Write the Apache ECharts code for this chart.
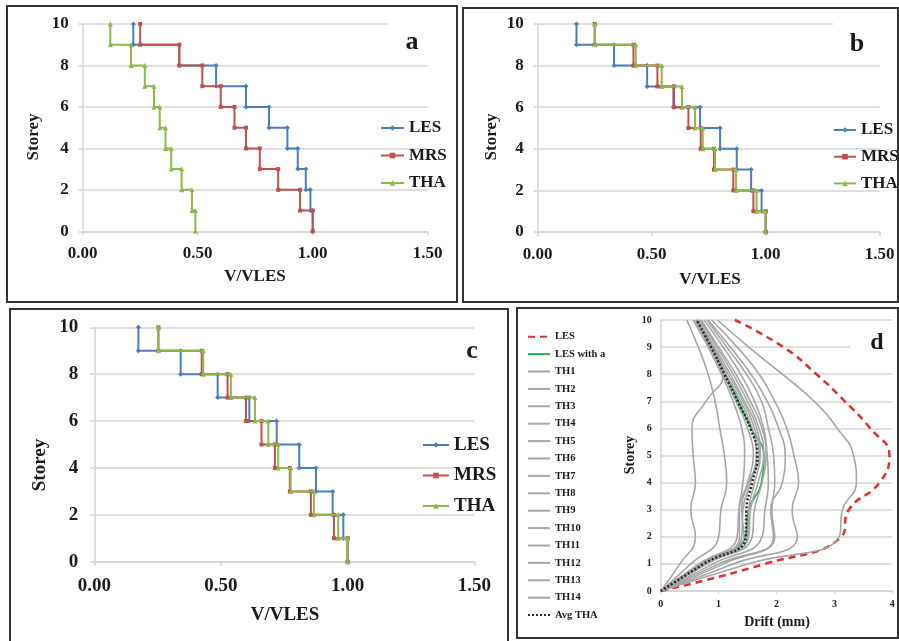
<!DOCTYPE html>
<html><head><meta charset="utf-8">
<script src="https://cdn.jsdelivr.net/npm/echarts@6/dist/echarts.min.js"></script>
<style>html,body{margin:0;padding:0;background:#fff}#c{width:899px;height:641px}</style>
</head><body><div id="c"></div>
<script>
// ---- data: panels a, b, c (storey shear ratio, storey 10 down to 1) ----
const storeys = [10, 9, 8, 7, 6, 5, 4, 3, 2, 1];
const seriesNames = ['LES', 'MRS', 'THA'];
const LES_a = [0.22, 0.42, 0.58, 0.71, 0.81, 0.89, 0.935, 0.97, 0.99, 1.0];
const MRS_a = [0.25, 0.42, 0.52, 0.60, 0.66, 0.71, 0.77, 0.85, 0.945, 1.0];
const THA_a = [0.12, 0.21, 0.27, 0.31, 0.335, 0.36, 0.385, 0.43, 0.475, 0.49];
const LES_b = [0.17, 0.335, 0.48, 0.595, 0.712, 0.80, 0.873, 0.936, 0.982, 1.0];
const MRS_b = [0.25, 0.42, 0.525, 0.598, 0.661, 0.715, 0.773, 0.858, 0.946, 1.0];
const THA_b = [0.25, 0.43, 0.544, 0.633, 0.69, 0.724, 0.778, 0.87, 0.96, 1.0];
const LES_c = [0.174, 0.341, 0.487, 0.612, 0.72, 0.809, 0.875, 0.941, 0.983, 1.0];
const MRS_c = [0.253, 0.424, 0.526, 0.599, 0.66, 0.713, 0.772, 0.855, 0.946, 1.0];
const THA_c = [0.253, 0.43, 0.539, 0.634, 0.687, 0.726, 0.775, 0.867, 0.963, 1.0];
const ratioTicks = ['0.00', '0.50', '1.00', '1.50'];
const storeyTicksABC = ['0', '2', '4', '6', '8', '10'];

// ---- data: panel d (drift in mm at storey 0..10) ----
const dStoreys = [0, 1, 2, 3, 4, 5, 6, 7, 8, 9, 10];
const LES_d  = [0, 1.80, 3.12, 3.25, 3.78, 3.95, 3.62, 3.18, 2.69, 2.12, 1.28];
const LESa_d = [0, 0.74, 1.46, 1.52, 1.74, 1.78, 1.56, 1.34, 1.12, 0.88, 0.62];
const TH1  = [0, 0.33, 0.60, 0.52, 0.60, 0.56, 0.54, 0.78, 1.08, 0.90, 0.60];
const TH2  = [0, 0.52, 1.00, 1.04, 1.14, 1.10, 1.02, 0.94, 0.82, 0.65, 0.45];
const TH3  = [0, 0.68, 1.36, 1.36, 1.50, 1.60, 1.50, 1.30, 1.08, 0.85, 0.60];
const TH4  = [0, 0.70, 1.40, 1.42, 1.55, 1.65, 1.58, 1.38, 1.12, 0.86, 0.60];
const TH5  = [0, 0.73, 1.44, 1.40, 1.52, 1.70, 1.62, 1.42, 1.16, 0.90, 0.62];
const TH6  = [0, 0.76, 1.50, 1.52, 1.62, 1.72, 1.66, 1.45, 1.20, 0.93, 0.65];
const TH7  = [0, 0.78, 1.52, 1.55, 1.68, 1.78, 1.70, 1.50, 1.25, 0.97, 0.68];
const TH8  = [0, 0.66, 1.32, 1.35, 1.42, 1.45, 1.40, 1.25, 1.05, 0.82, 0.56];
const TH9  = [0, 0.80, 1.58, 1.62, 1.75, 1.82, 1.75, 1.55, 1.30, 1.00, 0.70];
const TH10 = [0, 0.90, 1.75, 1.80, 1.86, 1.84, 1.78, 1.62, 1.38, 1.08, 0.75];
const TH11 = [0, 1.00, 1.97, 1.92, 1.97, 1.95, 1.86, 1.74, 1.48, 1.14, 0.80];
const TH12 = [0, 1.08, 1.95, 1.90, 2.10, 2.15, 2.04, 1.84, 1.56, 1.20, 0.82];
const TH13 = [0, 1.25, 2.36, 2.27, 2.38, 2.30, 2.18, 1.97, 1.70, 1.32, 0.88];
const TH14 = [0, 1.50, 3.08, 3.14, 3.38, 3.33, 3.05, 2.65, 2.10, 1.52, 0.98];
const AVG_d = [0, 0.74, 1.47, 1.48, 1.58, 1.67, 1.55, 1.33, 1.10, 0.87, 0.62];
const thNames = ['TH1','TH2','TH3','TH4','TH5','TH6','TH7','TH8','TH9','TH10','TH11','TH12','TH13','TH14'];
const thData = [TH1,TH2,TH3,TH4,TH5,TH6,TH7,TH8,TH9,TH10,TH11,TH12,TH13,TH14];
const driftTicks = ['0', '1', '2', '3', '4'];

// ---- build ----
const FF = "'Liberation Serif','Times New Roman',serif";
const TXT = '#1a1a1a';
const GRID = '#d4d4d4';
const colors = {LES: '#4A7EBB', MRS: '#C0504D', THA: '#8DB84A'};
const symbols = {LES: ['diamond', 5], MRS: ['rect', 4], THA: ['triangle', 5]};

function steps(vals) {
  const pts = [];
  vals.forEach((v, i) => { const s = storeys[i]; pts.push([v, s], [v, s - 1]); });
  return pts;
}
function pairs(xs) { return xs.map((x, i) => [x, dStoreys[i]]); }

const panelDefs = [
  {id: 'a', grid: {left: 82.7, top: 24, width: 345, height: 207.3}, fs: 17, ymargin: 14, xmargin: 14, data: [LES_a, MRS_a, THA_a]},
  {id: 'b', grid: {left: 537.7, top: 24, width: 342, height: 208}, fs: 17, ymargin: 14, xmargin: 14, data: [LES_b, MRS_b, THA_b]},
  {id: 'c', grid: {left: 94.3, top: 327.3, width: 380, height: 234.4}, fs: 19, ymargin: 16, xmargin: 15, data: [LES_c, MRS_c, THA_c]}
];

const grids = [], xAxes = [], yAxes = [], series = [];
panelDefs.forEach((p, idx) => {
  grids.push(Object.assign({}, p.grid));
  xAxes.push({
    gridIndex: idx, type: 'value', min: 0, max: 1.5, interval: 0.5,
    axisLabel: {formatter: v => ratioTicks[Math.round(v / 0.5)], fontSize: p.fs, fontWeight: 'bold', fontFamily: FF, color: TXT, margin: p.xmargin},
    axisLine: {show: true, onZero: false, lineStyle: {color: GRID, width: 1.5}},
    axisTick: {show: true, length: 4, lineStyle: {color: GRID, width: 1.5}},
    splitLine: {show: false}
  });
  yAxes.push({
    gridIndex: idx, type: 'value', min: 0, max: 10, interval: 2,
    axisLabel: {formatter: v => storeyTicksABC[Math.round(v / 2)], fontSize: p.fs, fontWeight: 'bold', fontFamily: FF, color: TXT, margin: p.ymargin},
    axisLine: {show: true, onZero: false, lineStyle: {color: GRID, width: 1.5}},
    axisTick: {show: true, length: 4, lineStyle: {color: GRID, width: 1.5}},
    splitLine: {show: true, lineStyle: {color: GRID, width: 1.5}}
  });
  seriesNames.forEach((n, k) => {
    series.push({
      type: 'line', name: p.id + ':' + n, xAxisIndex: idx, yAxisIndex: idx,
      data: steps(p.data[k]), symbol: symbols[n][0], symbolSize: symbols[n][1],
      lineStyle: {color: colors[n], width: 2}, itemStyle: {color: colors[n]},
      animation: false, z: 2 + k
    });
  });
});

// panel d
grids.push({left: 660.7, top: 320, width: 231.6, height: 271});
xAxes.push({
  gridIndex: 3, type: 'value', min: 0, max: 4, interval: 1,
  axisLabel: {formatter: v => driftTicks[Math.round(v)], fontSize: 10, fontWeight: 'bold', fontFamily: FF, color: TXT, margin: 8},
  axisLine: {show: true, onZero: false, lineStyle: {color: GRID, width: 1.5}},
  axisTick: {show: true, length: 3, lineStyle: {color: GRID}},
  splitLine: {show: false}
});
yAxes.push({
  gridIndex: 3, type: 'value', min: 0, max: 10, interval: 1,
  axisLabel: {fontSize: 10, fontWeight: 'bold', fontFamily: FF, color: TXT, margin: 9},
  axisLine: {show: true, onZero: false, lineStyle: {color: GRID, width: 1.5}},
  axisTick: {show: false},
  splitLine: {show: true, lineStyle: {color: GRID, width: 1.5}}
});
const dSeries = [];
dSeries.push({type: 'line', name: 'd:LES', data: pairs(LES_d), lineStyle: {color: '#E0302E', width: 2.5, type: [7, 5]}, itemStyle: {color: '#E0302E'}, z: 2});
dSeries.push({type: 'line', name: 'd:LES with a', data: pairs(LESa_d), lineStyle: {color: '#22B14C', width: 1.8}, itemStyle: {color: '#22B14C'}, z: 3});
thNames.forEach((n, i) => dSeries.push({type: 'line', name: 'd:' + n, data: pairs(thData[i]), lineStyle: {color: '#A6A6A6', width: 1.6}, itemStyle: {color: '#A6A6A6'}, z: 4}));
dSeries.push({type: 'line', name: 'd:Avg THA', data: pairs(AVG_d), lineStyle: {color: '#2a2a2a', width: 2.5, type: [2, 2]}, itemStyle: {color: '#2a2a2a'}, z: 5});
dSeries.forEach(s => { s.xAxisIndex = 3; s.yAxisIndex = 3; s.smooth = 0.5; s.symbol = 'none'; s.animation = false; series.push(s); });

const fmt = n => n.split(':')[1];
const legends = [
  {left: 380, top: 118, itemWidth: 23, itemHeight: 7, itemGap: 7.5, fs: 17, lh: 20, ids: seriesNames.map(n => 'a:' + n)},
  {left: 833, top: 120, itemWidth: 22, itemHeight: 7, itemGap: 6.7, fs: 17, lh: 20, ids: seriesNames.map(n => 'b:' + n)},
  {left: 422, top: 434, itemWidth: 26, itemHeight: 7, itemGap: 8.5, fs: 19, lh: 22, ids: seriesNames.map(n => 'c:' + n)}
].map(l => ({
  orient: 'vertical', left: l.left, top: l.top, padding: 0, itemWidth: l.itemWidth, itemHeight: l.itemHeight, itemGap: l.itemGap,
  data: l.ids, formatter: fmt, selectedMode: false,
  textStyle: {fontSize: l.fs, fontWeight: 'bold', fontFamily: FF, color: TXT, lineHeight: l.lh}
}));
legends.push({
  orient: 'vertical', left: 527, top: 329.7, padding: 0, itemWidth: 22, itemHeight: 4, itemGap: 3.4,
  data: ['d:LES', 'd:LES with a'].concat(thNames.map(n => 'd:' + n), ['d:Avg THA']),
  formatter: fmt, selectedMode: false, itemStyle: {opacity: 0},
  textStyle: {fontSize: 10.5, fontWeight: 'bold', fontFamily: FF, color: TXT, lineHeight: 14}
});

function txt(text, x, y, size, rot) {
  return {type: 'text', x: x, y: y, rotation: rot || 0, z: 100, silent: true,
    style: {text: text, font: 'bold ' + size + 'px ' + FF, fill: TXT, align: 'center', verticalAlign: 'middle'}};
}
function box(x, y, w, h) {
  return {type: 'rect', z: 100, silent: true, shape: {x: x, y: y, width: w, height: h}, style: {fill: 'none', stroke: '#333', lineWidth: 2}};
}
function cover(x, y, w, h) {
  return {type: 'rect', z: 1, silent: true, shape: {x: x, y: y, width: w, height: h}, style: {fill: '#fff'}};
}
const R = Math.PI / 2;
const graphic = [
  cover(387, 16, 55, 40), cover(833, 16, 55, 40), cover(850, 335, 42, 24),
  box(7, 6, 450, 296), box(463, 8, 435, 294), box(10, 309, 498, 340), box(517, 308, 381, 330),
  txt('a', 412, 42, 26), txt('b', 857, 44, 26), txt('c', 472, 351, 26), txt('d', 877, 343, 24),
  txt('V/VLES', 255, 277, 17), txt('Storey', 34, 137, 17, R),
  txt('V/VLES', 710, 280, 17), txt('Storey', 492, 137, 17, R),
  txt('V/VLES', 285, 615, 19), txt('Storey', 40, 465, 19, R),
  txt('Drift (mm)', 777, 622, 14), txt('Storey', 630, 455, 14, R)
];

const chart = echarts.init(document.getElementById('c'), null, {renderer: 'canvas'});
chart.setOption({
  backgroundColor: '#fff', animation: false,
  grid: grids, xAxis: xAxes, yAxis: yAxes, series: series, legend: legends, graphic: graphic
});
</script></body></html>
